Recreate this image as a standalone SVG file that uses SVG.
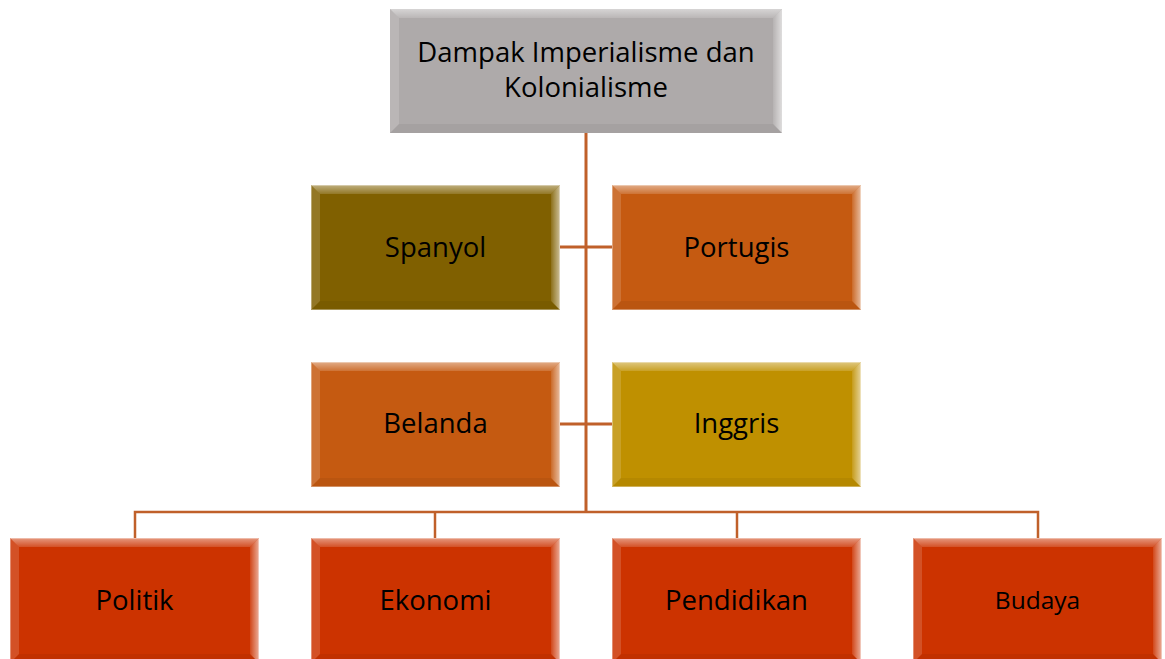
<svg xmlns="http://www.w3.org/2000/svg" width="1165" height="659" viewBox="0 0 1165 659" xmlns:xlink="http://www.w3.org/1999/xlink">
<style>
.lbl{font-family:"Open Sans","Liberation Sans",sans-serif;font-size:27.5px;fill:#000;text-anchor:middle}
.conn{stroke:#C0602A;fill:none}
</style>
<defs>
<linearGradient id="topg" x1="0" y1="0" x2="0" y2="1"><stop offset="0" stop-color="#fff" stop-opacity="0.5"/><stop offset="1" stop-color="#fff" stop-opacity="0.15"/></linearGradient>
<linearGradient id="rg" x1="0" y1="0" x2="1" y2="0"><stop offset="0" stop-color="#fff" stop-opacity="0.1"/><stop offset="1" stop-color="#fff" stop-opacity="0.6"/></linearGradient>
<g id="bev">
<polygon points="0,0 249,0 240,9 9,9" fill="url(#topg)"/>
<polygon points="0,0 9,9 9,116 0,125" fill="#fff" fill-opacity="0.15"/>
<polygon points="249,0 249,125 240,116 240,9" fill="url(#rg)"/>
<polygon points="0,125 249,125 240,116 9,116" fill="#000" fill-opacity="0.05"/>
<rect x="0.5" y="0.5" width="248" height="124" fill="none" stroke="#fff" stroke-opacity="0.35"/>
</g>
</defs>
<rect width="1165" height="659" fill="#fff"/>
<g id="connectors">
<line class="conn" x1="586" y1="133" x2="586" y2="512" stroke-width="3"/>
<line class="conn" x1="560" y1="247" x2="612" y2="247" stroke-width="3"/>
<line class="conn" x1="560" y1="424" x2="612" y2="424" stroke-width="3"/>
<polyline class="conn" points="135,538 135,512 1038,512 1038,538" stroke-width="2.5"/>
<line class="conn" x1="435" y1="512" x2="435" y2="538" stroke-width="2.5"/>
<line class="conn" x1="737" y1="512" x2="737" y2="538" stroke-width="2.5"/>
</g>
<g id="root">
<rect x="390" y="9" width="392" height="124" fill="#AEAAAA"/>
<polygon points="390,9 782,9 773,18 399,18" fill="url(#topg)"/>
<polygon points="390,9 399,18 399,124 390,133" fill="#fff" fill-opacity="0.15"/>
<polygon points="782,9 782,133 773,124 773,18" fill="url(#rg)"/>
<polygon points="390,133 782,133 773,124 399,124" fill="#000" fill-opacity="0.05"/>
<text class="lbl" x="586" y="62">Dampak Imperialisme dan</text>
<text class="lbl" x="586" y="97">Kolonialisme</text>
</g>
<g id="spanyol"><rect x="311" y="185" width="249" height="125" fill="#806000"/><use xlink:href="#bev" x="311" y="185"/><text class="lbl" x="435.5" y="257">Spanyol</text></g>
<g id="portugis"><rect x="612" y="185" width="249" height="125" fill="#C55A11"/><use xlink:href="#bev" x="612" y="185"/><text class="lbl" x="736.5" y="257">Portugis</text></g>
<g id="belanda"><rect x="311" y="362" width="249" height="125" fill="#C55A11"/><use xlink:href="#bev" x="311" y="362"/><text class="lbl" x="435.5" y="433">Belanda</text></g>
<g id="inggris"><rect x="612" y="362" width="249" height="125" fill="#BF9000"/><use xlink:href="#bev" x="612" y="362"/><text class="lbl" x="736.5" y="433">Inggris</text></g>
<g id="politik"><rect x="10" y="538" width="249" height="125" fill="#CC3300"/><use xlink:href="#bev" x="10" y="538"/><text class="lbl" x="134.5" y="610">Politik</text></g>
<g id="ekonomi"><rect x="311" y="538" width="249" height="125" fill="#CC3300"/><use xlink:href="#bev" x="311" y="538"/><text class="lbl" x="435.5" y="610">Ekonomi</text></g>
<g id="pendidikan"><rect x="612" y="538" width="249" height="125" fill="#CC3300"/><use xlink:href="#bev" x="612" y="538"/><text class="lbl" x="736.5" y="610">Pendidikan</text></g>
<g id="budaya"><rect x="913" y="538" width="249" height="125" fill="#CC3300"/><use xlink:href="#bev" x="913" y="538"/><text class="lbl" x="1037.5" y="609" style="font-size:24.5px">Budaya</text></g>
</svg>
